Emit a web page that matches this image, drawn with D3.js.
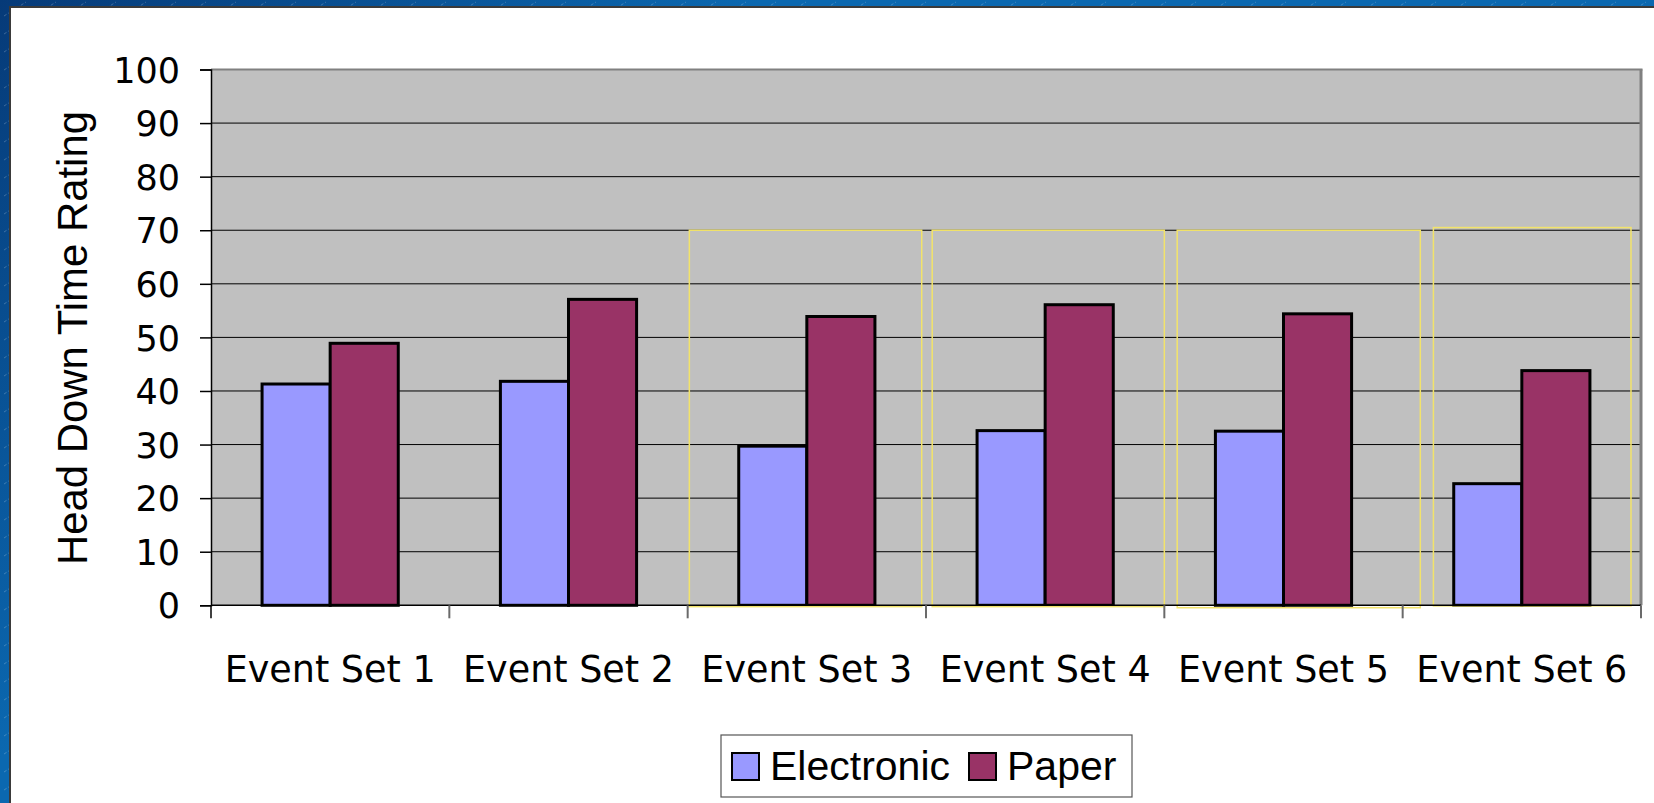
<!DOCTYPE html>
<html>
<head>
<meta charset="utf-8">
<script src="https://cdn.jsdelivr.net/npm/d3@7"></script>
<style>
  html, body { margin: 0; padding: 0; background: #fff; overflow: hidden; }
  svg { display: block; }
</style>
</head>
<body>
<svg id="chart" width="1654" height="803"></svg>
<script>
// ---- data ----
const categories = ["Event Set 1", "Event Set 2", "Event Set 3", "Event Set 4", "Event Set 5", "Event Set 6"];
const seriesNames = ["Electronic", "Paper"];
const electronic = [41.3, 41.8, 29.7, 32.6, 32.5, 22.7];
const paper = [48.9, 57.1, 53.9, 56.1, 54.4, 43.8];
const yTicks = [0, 10, 20, 30, 40, 50, 60, 70, 80, 90, 100];
// highlight frames (annotation boxes), in category-index units and value units
const frameStart = [2.007, 3.026, 4.054, 5.129];
const frameEnd = [2.982, 4.0, 5.074, 5.958];
const frameTop = [70, 70, 70, 70.5];
const frameBottom = [-0.25, -0.25, -0.45, -0.1];

const colors = ["#9999FF", "#993366"];

const W = 1654, H = 803;
const svg = d3.select("#chart");
const defs = svg.append("defs");

// background gradient
const grad = defs.append("linearGradient").attr("id", "bg")
  .attr("gradientUnits", "userSpaceOnUse")
  .attr("x1", 0).attr("y1", 0).attr("x2", 380).attr("y2", 380);
grad.append("stop").attr("offset", 0).attr("stop-color", "#063a78");
grad.append("stop").attr("offset", 1).attr("stop-color", "#0b68b0");

const pat = defs.append("pattern").attr("id", "lines")
  .attr("patternUnits", "userSpaceOnUse").attr("width", 30).attr("height", 18);
pat.append("line").attr("x1", 4).attr("y1", 16).attr("x2", 26).attr("y2", 2)
  .attr("stroke", "#ffffff").attr("stroke-opacity", 0.28).attr("stroke-width", 0.8)
  .attr("stroke-dasharray", "3,2");

svg.append("rect").attr("width", W).attr("height", H).attr("fill", "url(#bg)");
svg.append("rect").attr("width", W).attr("height", H).attr("fill", "url(#lines)");

// white panel
svg.append("rect").attr("x", 10).attr("y", 7).attr("width", W).attr("height", H)
  .attr("fill", "#ffffff").attr("stroke", "#3a3a3a").attr("stroke-width", 2);

// ---- scales ----
const plotL = 211, plotR = 1641, plotT = 69.5, plotB = 605.3;
const x = d3.scaleBand().domain(categories).range([plotL, plotR]).padding(0);
const xIdx = d3.scaleLinear().domain([0, categories.length]).range([plotL, plotR]);
const y = d3.scaleLinear().domain([0, 100]).range([plotB, plotT]);
const bw = x.bandwidth() / 3.5;

// plot background
svg.append("rect").attr("x", plotL).attr("y", plotT)
  .attr("width", plotR - plotL).attr("height", plotB - plotT)
  .attr("fill", "#C0C0C0");

// gridlines
svg.append("g").selectAll("line").data(yTicks.filter(d => d > 0 && d < 100)).join("line")
  .attr("x1", plotL).attr("x2", plotR)
  .attr("y1", d => y(d)).attr("y2", d => y(d))
  .attr("stroke", "#000").attr("stroke-width", 1);

// plot borders (top & right gray)
svg.append("line").attr("x1", plotL).attr("x2", plotR + 1.5).attr("y1", plotT).attr("y2", plotT)
  .attr("stroke", "#808080").attr("stroke-width", 2);
svg.append("line").attr("x1", plotR).attr("x2", plotR).attr("y1", plotT).attr("y2", plotB)
  .attr("stroke", "#808080").attr("stroke-width", 3);

// bars
const series = [electronic, paper];
series.forEach((vals, si) => {
  svg.append("g").selectAll("rect").data(vals).join("rect")
    .attr("x", (d, i) => x(categories[i]) + 0.75 * bw + si * bw)
    .attr("y", d => y(d))
    .attr("width", bw)
    .attr("height", d => y(0) - y(d))
    .attr("fill", colors[si])
    .attr("stroke", "#000").attr("stroke-width", 3);
});

// annotation frames
svg.append("g").selectAll("rect").data(frameStart).join("rect")
  .attr("x", (d) => xIdx(d))
  .attr("y", (d, i) => y(frameTop[i]))
  .attr("width", (d, i) => xIdx(frameEnd[i]) - xIdx(d))
  .attr("height", (d, i) => y(frameBottom[i]) - y(frameTop[i]))
  .attr("fill", "none").attr("stroke", "#f2e36a").attr("stroke-width", 1.5);

// y axis
const yAxis = d3.axisLeft(y).tickValues(yTicks).tickSize(11).tickPadding(20).tickFormat(d3.format("d"));
const gy = svg.append("g").attr("transform", `translate(${plotL},0)`).call(yAxis);
gy.select(".domain").attr("stroke", "#000").attr("stroke-width", 1.5);
gy.selectAll(".tick line").attr("stroke", "#000").attr("stroke-width", 1.5);
gy.selectAll(".tick text").attr("font-family", "'DejaVu Sans', sans-serif")
  .attr("font-size", 35).attr("fill", "#000").attr("dy", "0.36em");

// x axis
svg.append("line").attr("x1", plotL).attr("x2", plotR).attr("y1", plotB).attr("y2", plotB)
  .attr("stroke", "#000").attr("stroke-width", 1.5);
const boundaries = d3.range(categories.length + 1);
svg.append("g").selectAll("line").data(boundaries).join("line")
  .attr("x1", d => xIdx(d)).attr("x2", d => xIdx(d))
  .attr("y1", plotB).attr("y2", plotB + 13)
  .attr("stroke", d => d === 0 ? "#000" : "#6a6a6a").attr("stroke-width", d => d === 0 ? 1.5 : 2);

svg.append("g").selectAll("text").data(categories).join("text")
  .attr("x", d => x(d) + x.bandwidth() / 2)
  .attr("y", 682)
  .attr("text-anchor", "middle")
  .attr("font-family", "'DejaVu Sans', sans-serif")
  .attr("font-size", 36.5)
  .attr("fill", "#000")
  .text(d => d);

// y axis title
svg.append("text")
  .attr("transform", `translate(87,338) rotate(-90)`)
  .attr("x", -227)
  .attr("font-family", "'Liberation Sans', Arial, sans-serif")
  .attr("font-size", 42)
  .attr("textLength", 454)
  .attr("lengthAdjust", "spacingAndGlyphs")
  .attr("fill", "#000")
  .text("Head Down Time Rating");

// legend
const lg = svg.append("g");
lg.append("rect").attr("x", 721).attr("y", 735).attr("width", 411).attr("height", 62)
  .attr("fill", "#fff").attr("stroke", "#555").attr("stroke-width", 1.2);
const legendX = [732, 969];
seriesNames.forEach((name, i) => {
  lg.append("rect").attr("x", legendX[i]).attr("y", 753).attr("width", 27).attr("height", 27)
    .attr("fill", colors[i]).attr("stroke", "#000").attr("stroke-width", 2);
  lg.append("text").attr("x", legendX[i] + 38).attr("y", 780)
    .attr("font-family", "'Liberation Sans', Arial, sans-serif")
    .attr("font-size", 41).attr("fill", "#000").text(name);
});
</script>
</body>
</html>
